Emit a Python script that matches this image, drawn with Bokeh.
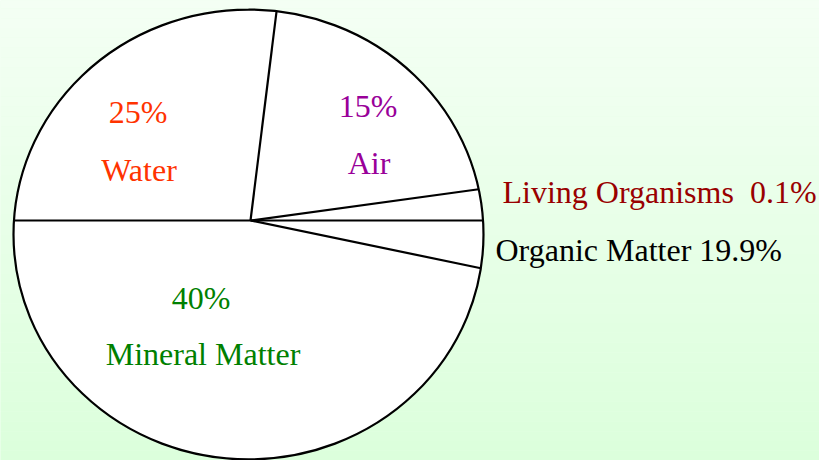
import numpy as np
from bokeh.plotting import figure
from bokeh.models import Range1d
from bokeh.core.properties import value
from bokeh.embed import file_html
from bokeh.resources import INLINE

# ---- data ----
categories = ["Water", "Air", "Living Organisms", "Organic Matter", "Mineral Matter"]
percents = [25, 15, 0.1, 19.9, 40]
# angular share (degrees) each slice occupies as it is drawn in the diagram
drawn_spans = [97.1, 75.1, 7.8, 11.7, 168.3]
label_colors = ["#FF3300", "#990099", "#990000", "#000000", "#008000"]

# ---- layout (reference pixel coordinates) ----
pie_center = (248.0, 234.0)
pie_size = (470.0, 450.0)
hub = (250.0, 220.0)
start_angle = 180.0
inside_labels = {  # category -> (pct_x, pct_y, name_x, name_y)
    "Water": (137.5, 111, 138.5, 169),
    "Air": (367.5, 105, 368.5, 162),
    "Mineral Matter": (200.5, 297, 202.5, 353),
}
outside_labels = {  # category -> (x, y), left aligned
    "Living Organisms": (502, 191),
    "Organic Matter": (495, 249),
}
FONT = value("Liberation Serif")
FSIZE = "32px"

p = figure(width=819, height=460, output_backend="svg", toolbar_location=None,
           x_range=Range1d(0, 819), y_range=Range1d(460, 0),
           min_border=0, min_border_left=0, min_border_right=0,
           min_border_top=0, min_border_bottom=0)
p.axis.visible = False
p.grid.visible = False
p.outline_line_color = None
p.background_fill_color = "#E8FFE8"
p.border_fill_color = "#E8FFE8"

# background vertical gradient (decoration)
nb = 48
edges = np.linspace(-2, 470, nb + 1)
top_c = np.array([0xF4, 0xFF, 0xF4])
bot_c = np.array([0xDB, 0xFF, 0xDB])
cols = []
for i in range(nb):
    f = i / (nb - 1)
    c = (top_c * (1 - f) + bot_c * f).round().astype(int)
    cols.append("#%02x%02x%02x" % tuple(c))
p.quad(left=-5, right=830, top=edges[:-1], bottom=edges[1:], fill_color=cols,
       line_color=None)

# pie outline
p.ellipse(x=[pie_center[0]], y=[pie_center[1]], width=pie_size[0], height=pie_size[1],
          fill_color="white", line_color="black", line_width=2.2)

# slice boundaries from drawn spans
bounds = start_angle - np.concatenate([[0], np.cumsum(drawn_spans)[:-1]])
a, b = pie_size[0] / 2, pie_size[1] / 2
x0s, y0s, x1s, y1s = [], [], [], []
for ang in bounds:
    th = np.deg2rad(ang)
    dx, dy = np.cos(th), -np.sin(th)
    px, py = hub[0] - pie_center[0], hub[1] - pie_center[1]
    A = (dx / a) ** 2 + (dy / b) ** 2
    B = 2 * (px * dx / a ** 2 + py * dy / b ** 2)
    C = (px / a) ** 2 + (py / b) ** 2 - 1
    t = (-B + np.sqrt(B * B - 4 * A * C)) / (2 * A)
    x0s.append(hub[0]); y0s.append(hub[1])
    x1s.append(hub[0] + t * dx); y1s.append(hub[1] + t * dy)
p.segment(x0=x0s, y0=y0s, x1=x1s, y1=y1s, line_color="black", line_width=2.2)

# labels
for cat, pct, col in zip(categories, percents, label_colors):
    ptxt = f"{pct:g}%"
    if cat in inside_labels:
        px_, py_, nx, ny = inside_labels[cat]
        p.text(x=[px_, nx], y=[py_, ny], text=[ptxt, cat], text_color=col,
               text_font=FONT, text_font_size=FSIZE, text_align="center",
               text_baseline="alphabetic")
    else:
        lx, ly = outside_labels[cat]
        sep = "\u00a0\u00a0" if pct < 1 else " "
        p.text(x=[lx], y=[ly], text=[cat + sep + ptxt], text_color=col,
               text_font=FONT, text_font_size=FSIZE, text_align="left",
               text_baseline="alphabetic")

open("out.html", "w").write(file_html(p, INLINE))
